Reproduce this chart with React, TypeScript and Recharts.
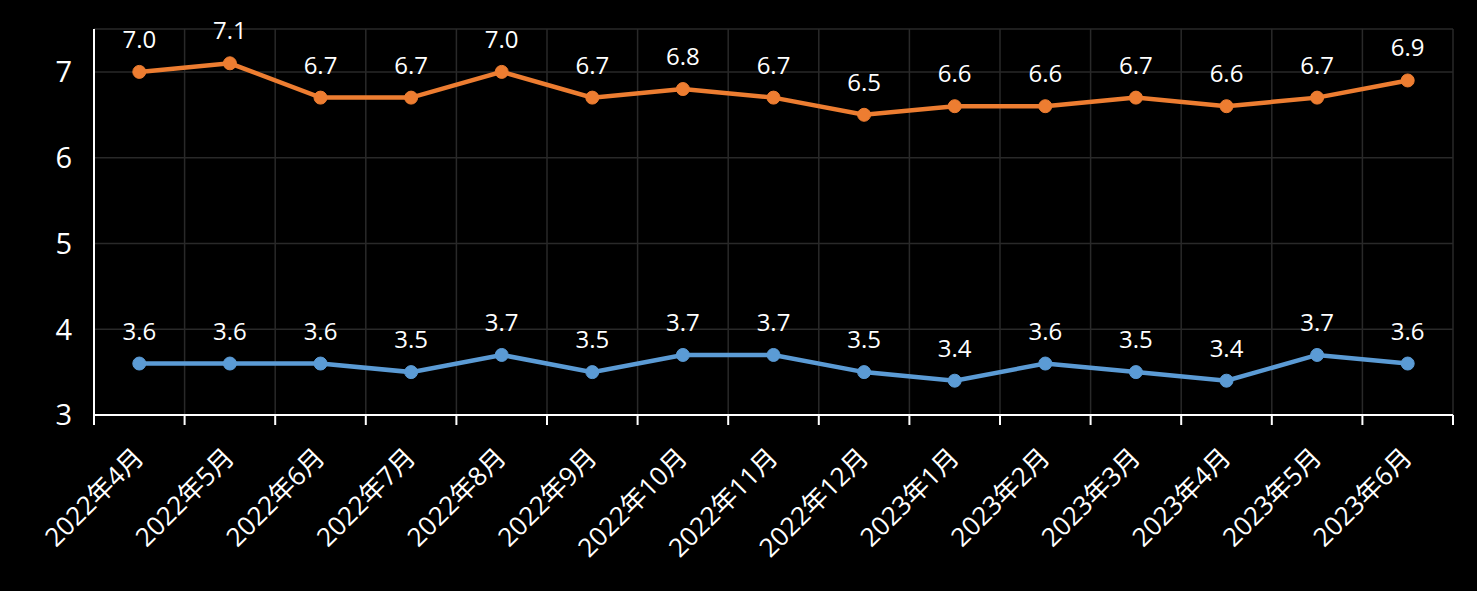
import { CartesianGrid, LabelList, Line, LineChart, XAxis, YAxis } from "recharts";

const MONTHS = [
  "2022年4月",
  "2022年5月",
  "2022年6月",
  "2022年7月",
  "2022年8月",
  "2022年9月",
  "2022年10月",
  "2022年11月",
  "2022年12月",
  "2023年1月",
  "2023年2月",
  "2023年3月",
  "2023年4月",
  "2023年5月",
  "2023年6月",
];
const ORANGE_VALUES = [7.0, 7.1, 6.7, 6.7, 7.0, 6.7, 6.8, 6.7, 6.5, 6.6, 6.6, 6.7, 6.6, 6.7, 6.9];
const BLUE_VALUES = [3.6, 3.6, 3.6, 3.5, 3.7, 3.5, 3.7, 3.7, 3.5, 3.4, 3.6, 3.5, 3.4, 3.7, 3.6];
const Y_TICKS = [3, 4, 5, 6, 7];

const FONT = "'Open Sans', 'Noto Sans CJK SC', sans-serif";

// points sit in the middle of each category slot
const data = MONTHS.map((m, i) => ({
  x: i + 0.5,
  month: m,
  orange: ORANGE_VALUES[i],
  blue: BLUE_VALUES[i],
}));
const slotEdges = MONTHS.map((_, i) => i).concat(MONTHS.length);
const slotCenters = data.map((d) => d.x);

function MonthTick(props: any) {
  const { x, y, payload } = props;
  const label = MONTHS[Math.round(payload.value - 0.5)] ?? "";
  const ax = x + 6;
  const ay = y + 35;
  return (
    <text
      x={ax}
      y={ay}
      transform={`rotate(-45, ${ax}, ${ay})`}
      textAnchor="end"
      fill="#fff"
      fontSize={26}
      fontFamily={FONT}
    >
      {label}
    </text>
  );
}

const NoLabel = () => <g />;

const fmt = (v: any) => Number(v).toFixed(1);

export default function App() {
  return (
    <div style={{ position: "fixed", left: 0, top: 0, width: 1477, height: 591, background: "#000" }}>
      <LineChart
        width={1477}
        height={591}
        data={data}
        margin={{ top: 29, right: 24, bottom: 0, left: 26 }}
      >
        <CartesianGrid stroke="#292929" strokeWidth={1.5} xAxisId="edges" />
        <XAxis
          xAxisId="edges"
          dataKey="x"
          type="number"
          domain={[0, MONTHS.length]}
          ticks={slotEdges}
          interval={0}
          tick={<NoLabel />}
          tickSize={10}
          stroke="#fff"
          strokeWidth={2}
          height={1}
        />
        <XAxis
          xAxisId="labels"
          dataKey="x"
          type="number"
          domain={[0, MONTHS.length]}
          ticks={slotCenters}
          tick={<MonthTick />}
          axisLine={false}
          tickLine={false}
          interval={0}
          height={175}
        />
        <YAxis
          domain={[3, 7.5]}
          ticks={Y_TICKS}
          stroke="#fff"
          strokeWidth={2}
          tickLine={false}
          tick={{ fill: "#fff", fontSize: 29, fontFamily: FONT }}
          tickMargin={16}
          width={68}
        />
        <Line
          xAxisId="edges"
          dataKey="orange"
          stroke="#ED7D31"
          strokeWidth={4.5}
          dot={{ r: 6.5, fill: "#ED7D31", stroke: "#ED7D31", strokeWidth: 1 }}
          isAnimationActive={false}
        >
          <LabelList
            dataKey="orange"
            position="top"
            offset={24}
            formatter={fmt}
            fill="#fff"
            fontSize={24}
            fontFamily={FONT}
          />
        </Line>
        <Line
          xAxisId="edges"
          dataKey="blue"
          stroke="#5B9BD5"
          strokeWidth={4.5}
          dot={{ r: 6.5, fill: "#5B9BD5", stroke: "#5B9BD5", strokeWidth: 1 }}
          isAnimationActive={false}
        >
          <LabelList
            dataKey="blue"
            position="top"
            offset={24}
            formatter={fmt}
            fill="#fff"
            fontSize={24}
            fontFamily={FONT}
          />
        </Line>
      </LineChart>
    </div>
  );
}
